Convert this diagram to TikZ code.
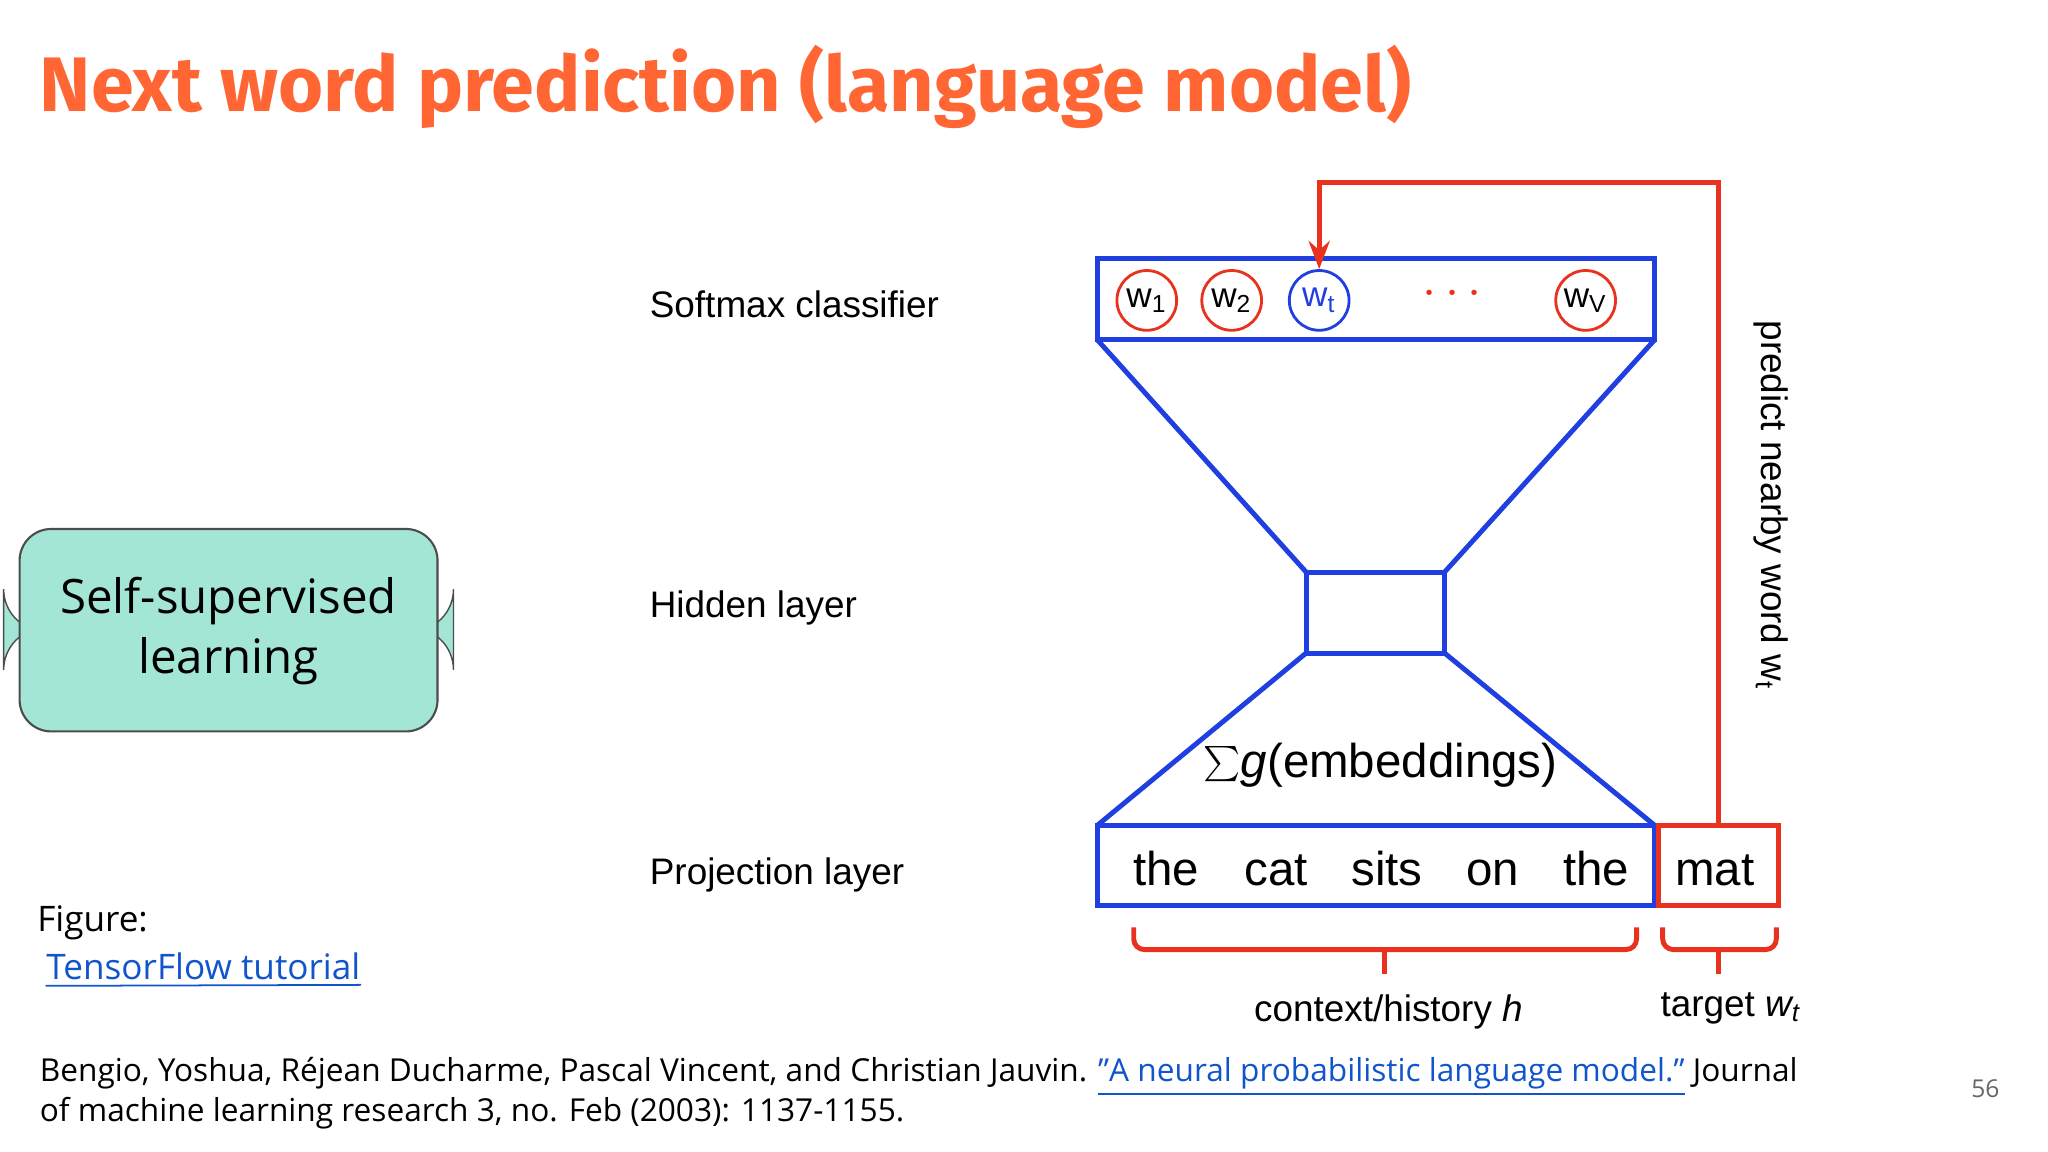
\documentclass[tikz,border=0pt]{standalone}
\usepackage{fontspec}
\setmainfont{Open Sans}
\newfontfamily\arialf{Liberation Sans}
\newfontfamily\titlef{Fira Sans}
\usetikzlibrary{arrows.meta}
\definecolor{ttl}{HTML}{FF6633}
\definecolor{mint}{HTML}{A3E6D6}
\definecolor{nblue}{HTML}{1F3FE0}
\definecolor{nred}{HTML}{E8321E}
\definecolor{lnk}{HTML}{1155CC}
\tikzset{
  lbl/.style={anchor=base west,font=\arialf\fontsize{10.5pt}{12pt}\selectfont,inner sep=0},
  wrd/.style={anchor=base,font=\arialf\fontsize{13.5pt}{15pt}\selectfont,inner sep=0},
  bl/.style={draw=nblue,line width=1.4pt},
  rd/.style={draw=nred,line width=1.4pt},
  circ/.style={circle,draw=nred,line width=0.8pt,minimum size=17pt,inner sep=0,font=\arialf\fontsize{10pt}{11pt}\selectfont},
  plain/.style={anchor=base west,inner sep=0,font=\fontsize{9pt}{11pt}\selectfont},
}
\begin{document}
\begin{tikzpicture}[x=0.013061cm,y=-0.013061cm]
\useasboundingbox (0,0) rectangle (1568,882);
\node[anchor=base west,inner sep=0,text=ttl,font=\titlef\bfseries\fontsize{22pt}{26pt}\selectfont] (title) at (30,85) {Next word prediction (language model)};
\node[draw=black!70,fill=mint,rounded corners=12pt,minimum width=320\pgflinewidth,inner sep=0] (ssl) at (175,482) {};
\draw[draw=black!70,fill=mint,rounded corners=9pt,line width=0.6pt] (15,405) rectangle (335,560);
\node[align=center,font=\fontsize{13.5pt}{17pt}\selectfont] (sslt) at (175,483) {Self-supervised\\learning};
\node[plain,font=\fontsize{10pt}{12pt}\selectfont] (fig) at (28,713) {Figure:};
\node[plain,font=\fontsize{10pt}{12pt}\selectfont,text=lnk] (tf) at (35,750) {TensorFlow tutorial};
\draw[lnk,line width=0.5pt] (tf.south west)++(0,4) -- ([yshift=-1.5pt]tf.base east);
\node[plain] (cit1) at (30,828) {Bengio, Yoshua, Réjean Ducharme, Pascal Vincent, and Christian Jauvin. \textcolor{lnk}{\underline{"A neural probabilistic language model."}} Journal};
\node[plain] (cit2) at (30,859) {of machine learning research 3, no. Feb (2003): 1137-1155.};
\node[anchor=base,inner sep=0,text=black!60,font=\fontsize{7pt}{8pt}\selectfont] (pg) at (1520,840) {56};
% labels
\node[lbl] (l1) at (497,243) {Softmax classifier};
\node[lbl] (l2) at (497,473) {Hidden layer};
\node[lbl] (l3) at (497,677) {Projection layer};
% network
\draw[bl] (840,198) rectangle (1267,260);
\draw[bl] (840,260) -- (1000,438) (1267,260) -- (1106,438);
\draw[bl] (1000,438) rectangle (1106,500);
\draw[bl] (1000,500) -- (840,632) (1106,500) -- (1267,632);
\draw[bl] (840,632) rectangle (1267,693);
\node[circ] (c1) at (878,230) {w\textsubscript{1}};
\node[circ] (c2) at (943,230) {w\textsubscript{2}};
\node[circ,draw=nblue,text=nblue] (ct) at (1010,230) {w\textsubscript{t}};
\node[circ] (cv) at (1214,230) {w\textsubscript{V}};
\node[text=nred,font=\arialf\bfseries\fontsize{14pt}{14pt}\selectfont] (dots) at (1112,225) {$\cdots$};
\node[anchor=base,inner sep=0,font=\arialf\fontsize{13.5pt}{15pt}\selectfont] (emb) at (1057,595) {$\sum$\textit{g}(embeddings)};
\node[wrd] (w1) at (893,678) {the};
\node[wrd] (w2) at (977,678) {cat};
\node[wrd] (w3) at (1062,678) {sits};
\node[wrd] (w4) at (1143,678) {on};
\node[wrd] (w5) at (1222,678) {the};
\node[rd,minimum width=92*0.013061cm,minimum height=61*0.013061cm,inner sep=0] (mat) at (1316,662.5) {};
\node[wrd] (w6) at (1313,678) {mat};
\coordinate (r1) at (1316,140);
\coordinate (r2) at (1010,140);
\draw[rd,-{Stealth[length=8pt,width=6pt]}] (mat.north) -- (r1) -- (r2) -- (ct.north);
\node[rotate=-90,font=\arialf\fontsize{10.5pt}{12pt}\selectfont,inner sep=0] (pred) at (1356,387) {predict nearby word w\textsubscript{t}};
% braces
\draw[rd,rounded corners=3pt] (868,710) -- (868,727) -- (1253,727) -- (1253,710);
\draw[rd] (1060,727) -- (1060,746);
\draw[rd,rounded corners=3pt] (1273,710) -- (1273,727) -- (1360,727) -- (1360,710);
\draw[rd] (1316,727) -- (1316,746);
\node[anchor=base,inner sep=0,font=\arialf\fontsize{10.5pt}{12pt}\selectfont] (ctx) at (1063,782) {context/history \textit{h}};
\node[anchor=base,inner sep=0,font=\arialf\fontsize{10.5pt}{12pt}\selectfont] (tgt) at (1325,778) {target \textit{w\textsubscript{t}}};
\end{tikzpicture}
\end{document}
